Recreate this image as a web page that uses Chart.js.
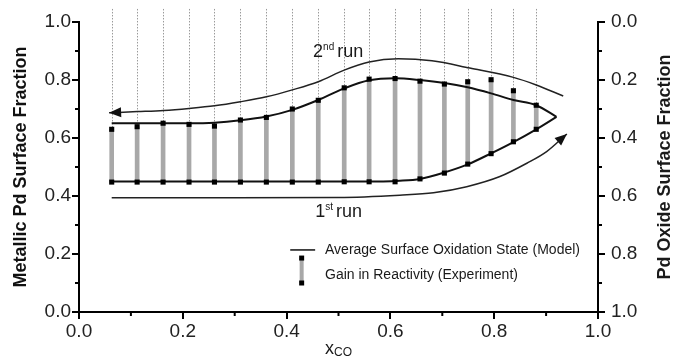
<!DOCTYPE html>
<html>
<head>
<meta charset="utf-8">
<script src="https://cdn.jsdelivr.net/npm/chart.js@4.4.1/dist/chart.umd.min.js"></script>
<style>
  body { margin: 0; background: #fff; }
  #wrap { width: 674px; height: 358px; }
</style>
</head>
<body>
<div id="wrap"><canvas id="oxChart"></canvas></div>
<script>
// measurement positions (x_CO) and the gain in reactivity bars
const xco = [0.063, 0.112, 0.162, 0.212, 0.261, 0.311, 0.361, 0.411, 0.461, 0.511, 0.559, 0.609, 0.657, 0.704, 0.749, 0.794, 0.837, 0.881];
const gainTop = [0.630, 0.639, 0.651, 0.647, 0.641, 0.662, 0.671, 0.700, 0.730, 0.773, 0.803, 0.805, 0.796, 0.786, 0.794, 0.801, 0.763, 0.713];
const gainBottom = [0.448, 0.448, 0.448, 0.448, 0.448, 0.448, 0.448, 0.448, 0.448, 0.449, 0.449, 0.449, 0.459, 0.479, 0.510, 0.546, 0.587, 0.630];

// model curve (lower and upper branch, meeting at the tip)
const modelLowX = [0.063, 0.30, 0.55, 0.618, 0.657, 0.702, 0.749, 0.794, 0.837, 0.881, 0.920];
const modelLowY = [0.450, 0.450, 0.450, 0.453, 0.459, 0.480, 0.509, 0.547, 0.586, 0.630, 0.673];
const modelHighX = [0.063, 0.212, 0.261, 0.311, 0.361, 0.411, 0.461, 0.511, 0.559, 0.609, 0.657, 0.704, 0.749, 0.794, 0.837, 0.881, 0.920];
const modelHighY = [0.651, 0.651, 0.653, 0.661, 0.674, 0.697, 0.731, 0.771, 0.799, 0.806, 0.800, 0.790, 0.775, 0.754, 0.731, 0.713, 0.673];

// run arrows
const run2X = [0.058, 0.113, 0.163, 0.212, 0.261, 0.311, 0.361, 0.411, 0.461, 0.511, 0.559, 0.615, 0.680, 0.753, 0.837, 0.881, 0.933];
const run2Y = [0.687, 0.691, 0.695, 0.702, 0.711, 0.725, 0.742, 0.766, 0.794, 0.834, 0.862, 0.873, 0.866, 0.841, 0.809, 0.783, 0.745];
const run1X = [0.063, 0.300, 0.500, 0.618, 0.683, 0.747, 0.811, 0.863, 0.901, 0.940];
const run1Y = [0.394, 0.394, 0.395, 0.403, 0.411, 0.432, 0.467, 0.513, 0.553, 0.614];

const tickLabels = ['0.0', '0.2', '0.4', '0.6', '0.8', '1.0'];
const minorTicks = [0.1, 0.3, 0.5, 0.7, 0.9];
const guideTop = 1.045; // dotted guides run a little above the frame

const FONT = '"Liberation Sans", Arial, sans-serif';
Chart.defaults.font.family = FONT;

const toPts = (xs, ys) => xs.map((x, i) => ({ x: x, y: ys[i] }));
const tickCb = v => tickLabels[Math.round(v * 5)];

const extras = {
  id: 'extras',
  beforeDatasetsDraw(chart) {
    const { ctx, scales: { x, y } } = chart;
    ctx.save();
    ctx.strokeStyle = '#9a9a9a';
    ctx.lineWidth = 1;
    ctx.setLineDash([1.5, 1.5]);
    xco.forEach((v, i) => {
      const px = Math.round(x.getPixelForValue(v)) + 0.5;
      ctx.beginPath();
      ctx.moveTo(px, y.getPixelForValue(guideTop));
      ctx.lineTo(px, y.getPixelForValue(gainTop[i]));
      ctx.stroke();
    });
    ctx.restore();
  },
  afterDatasetsDraw(chart) {
    const ctx = chart.ctx;
    const head = (tip, from) => {
      const a = Math.atan2(tip.y - from.y, tip.x - from.x);
      const len = 12, half = 5;
      ctx.save();
      ctx.translate(tip.x, tip.y);
      ctx.rotate(a);
      ctx.fillStyle = '#111';
      ctx.beginPath();
      ctx.moveTo(0, 0);
      ctx.lineTo(-len, -half);
      ctx.lineTo(-len, half);
      ctx.closePath();
      ctx.fill();
      ctx.restore();
    };
    const p2 = chart.getDatasetMeta(3).data;
    head(p2[0], p2[1]);
    const p1 = chart.getDatasetMeta(4).data;
    head(p1[p1.length - 1], p1[p1.length - 2]);
  },
  afterDraw(chart) {
    const { ctx, chartArea: ca, scales: { x, y } } = chart;
    ctx.save();
    // minor ticks
    ctx.strokeStyle = '#000';
    ctx.lineWidth = 2;
    minorTicks.forEach(v => {
      const px = x.getPixelForValue(v);
      ctx.beginPath(); ctx.moveTo(px, ca.bottom); ctx.lineTo(px, ca.bottom + 4); ctx.stroke();
      const py = y.getPixelForValue(v);
      ctx.beginPath(); ctx.moveTo(ca.left, py); ctx.lineTo(ca.left - 4, py); ctx.stroke();
      ctx.beginPath(); ctx.moveTo(ca.right, py); ctx.lineTo(ca.right + 4, py); ctx.stroke();
    });

    ctx.fillStyle = '#1a1a1a';
    ctx.textBaseline = 'alphabetic';
    ctx.textAlign = 'left';
    // run labels with superscripts
    const supLabel = (xv, yv, num, sup) => {
      let px = x.getPixelForValue(xv);
      const py = y.getPixelForValue(yv);
      ctx.font = '18px ' + FONT;
      ctx.fillText(num, px, py);
      px += ctx.measureText(num).width;
      ctx.font = '10px ' + FONT;
      ctx.fillText(sup, px, py - 7);
      px += ctx.measureText(sup).width + 3;
      ctx.font = '18px ' + FONT;
      ctx.fillText('run', px, py);
    };
    supLabel(0.451, 0.88, '2', 'nd');
    supLabel(0.455, 0.329, '1', 'st');

    // legend
    const lx0 = x.getPixelForValue(0.407), lx1 = x.getPixelForValue(0.455);
    const ly1 = y.getPixelForValue(0.214), ly2 = y.getPixelForValue(0.128);
    ctx.strokeStyle = '#111';
    ctx.lineWidth = 1.5;
    ctx.beginPath(); ctx.moveTo(lx0, ly1); ctx.lineTo(lx1, ly1); ctx.stroke();
    const bx = x.getPixelForValue(0.429);
    const bt = y.getPixelForValue(0.186), bb = y.getPixelForValue(0.10);
    ctx.fillStyle = '#a8a8a8';
    ctx.fillRect(bx - 2, bt, 4, bb - bt);
    ctx.fillStyle = '#000';
    ctx.fillRect(bx - 2.5, bt - 2.5, 5, 5);
    ctx.fillRect(bx - 2.5, bb - 2.5, 5, 5);
    ctx.fillStyle = '#1a1a1a';
    ctx.font = '14px ' + FONT;
    ctx.textBaseline = 'middle';
    const tx = x.getPixelForValue(0.474);
    ctx.fillText('Average Surface Oxidation State (Model)', tx, ly1);
    ctx.fillText('Gain in Reactivity (Experiment)', tx, ly2);

    // x axis title: x with subscript CO
    ctx.textBaseline = 'alphabetic';
    ctx.font = '18px ' + FONT;
    const wx = ctx.measureText('x').width;
    ctx.font = '12px ' + FONT;
    const wco = ctx.measureText('CO').width;
    const cx = (ca.left + ca.right) / 2 - (wx + wco) / 2;
    ctx.font = '18px ' + FONT;
    ctx.fillText('x', cx, 354);
    ctx.font = '12px ' + FONT;
    ctx.fillText('CO', cx + wx, 356);

    // right axis title, reading upwards like the left one
    ctx.font = 'bold 18px ' + FONT;
    ctx.textAlign = 'center';
    ctx.textBaseline = 'middle';
    ctx.translate(665, (ca.top + ca.bottom) / 2);
    ctx.rotate(-Math.PI / 2);
    ctx.fillText('Pd Oxide Surface Fraction', 0, 0);
    ctx.restore();
  }
};

const axisBase = {
  min: 0,
  max: 1,
  border: { color: '#000', width: 2 },
  grid: { drawOnChartArea: false, tickLength: 7, tickColor: '#000', lineWidth: 2, offset: false }
};

const ctx = document.getElementById('oxChart').getContext('2d');
const oxChart = new Chart(ctx, {
  type: 'bar',
  data: {
    datasets: [
      {
        type: 'bar',
        label: 'Gain in Reactivity (Experiment)',
        data: xco.map((v, i) => ({ x: v, y: [gainBottom[i], gainTop[i]] })),
        backgroundColor: '#a8a8a8',
        barThickness: 4,
        order: 4
      },
      {
        type: 'line',
        label: 'Model (lower)',
        data: toPts(modelLowX, modelLowY),
        borderColor: '#111',
        borderWidth: 2,
        pointRadius: 0,
        fill: false,
        cubicInterpolationMode: 'monotone',
        order: 2
      },
      {
        type: 'line',
        label: 'Model (upper)',
        data: toPts(modelHighX, modelHighY),
        borderColor: '#111',
        borderWidth: 2,
        pointRadius: 0,
        fill: false,
        cubicInterpolationMode: 'monotone',
        order: 2
      },
      {
        type: 'line',
        label: '2nd run',
        data: toPts(run2X, run2Y),
        borderColor: '#222',
        borderWidth: 1.5,
        pointRadius: 0,
        fill: false,
        cubicInterpolationMode: 'monotone',
        order: 3
      },
      {
        type: 'line',
        label: '1st run',
        data: toPts(run1X, run1Y),
        borderColor: '#222',
        borderWidth: 1.5,
        pointRadius: 0,
        fill: false,
        cubicInterpolationMode: 'monotone',
        order: 3
      },
      {
        type: 'scatter',
        label: 'top',
        data: toPts(xco, gainTop),
        pointStyle: 'rect',
        pointRadius: 3.6,
        backgroundColor: '#000',
        borderWidth: 0,
        order: 1
      },
      {
        type: 'scatter',
        label: 'bottom',
        data: toPts(xco, gainBottom),
        pointStyle: 'rect',
        pointRadius: 3.6,
        backgroundColor: '#000',
        borderWidth: 0,
        order: 1
      }
    ]
  },
  options: {
    responsive: true,
    maintainAspectRatio: false,
    animation: false,
    events: [],
    layout: { padding: { top: 22, left: 0, right: 0, bottom: 0 } },
    plugins: {
      legend: { display: false },
      tooltip: { enabled: false }
    },
    scales: {
      x: {
        ...axisBase,
        type: 'linear',
        offset: false,
        ticks: { stepSize: 0.2, callback: tickCb, color: '#222', font: { size: 19 }, padding: 1, maxRotation: 0, autoSkip: false },
        afterFit: s => { s.height = 46; }
      },
      y: {
        ...axisBase,
        position: 'left',
        ticks: { stepSize: 0.2, callback: tickCb, color: '#222', font: { size: 19 }, padding: 1 },
        title: { display: true, text: 'Metallic Pd Surface Fraction', color: '#111', font: { size: 18, weight: 'bold' }, padding: { top: 10, bottom: 0 } },
        afterFit: s => { s.width = 79; }
      },
      y2: {
        ...axisBase,
        position: 'right',
        reverse: true,
        ticks: { stepSize: 0.2, callback: tickCb, color: '#222', font: { size: 19 }, padding: 6 },
        afterFit: s => { s.width = 76; }
      }
    }
  },
  plugins: [extras]
});
</script>
</body>
</html>
